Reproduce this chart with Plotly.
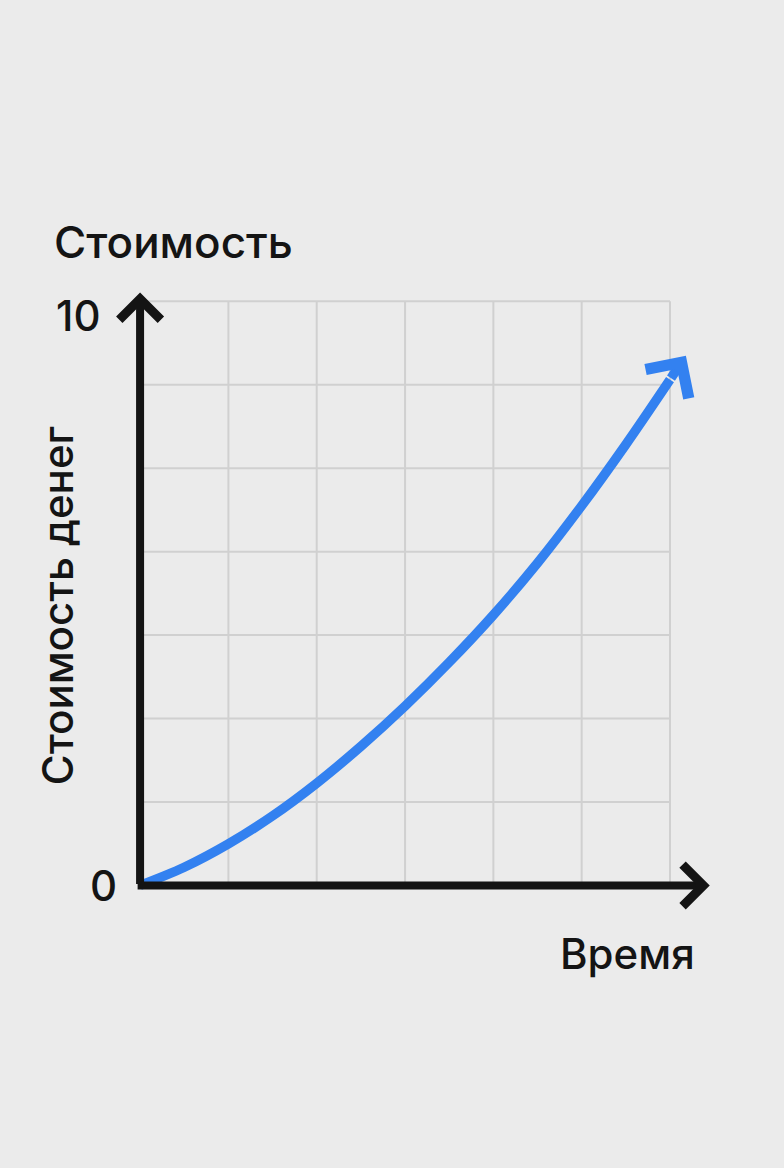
import plotly.graph_objects as go

# ---- data ----
time_x = [0, 0.5, 1, 1.5, 2, 2.5, 3, 3.5, 4, 4.5, 5, 5.5, 6, 6.18]
value_y = [0, 0.31, 0.71, 1.19, 1.75, 2.38, 3.07, 3.82, 4.63, 5.52, 6.50, 7.55, 8.66, 9.07]
x_grid = [0, 1, 2, 3, 4, 5, 6]
y_max = 10
y_grid_steps = 7
y_tick_text = ["0", "10"]
x_axis_end = 6.45
y_axis_end = 10.15

title_top = "Стоимость"
title_y = "Стоимость денег"
title_x = "Время"

# ---- layout geometry ----
W, H = 784, 1168
ox, oy = 140, 885          # pixel of data origin
ux, uy = 88.33, 58.33      # pixels per data unit
x_range = [-0.25, 6.6]
y_range = [-0.25, 10.4]
l = ox + x_range[0] * ux
pw = (x_range[1] - x_range[0]) * ux
r = W - l - pw
b = H - (oy - y_range[0] * uy)
ph = (y_range[1] - y_range[0]) * uy
t = H - b - ph


def px_x(px):
    return (px - l) / pw


def px_y(py):
    return ((H - b) - py) / ph


BG = "#ebebeb"
GRID = "#d0d0d0"
BLUE = "#3381f0"
INK = "#141414"
FONT = "Inter"

fig = go.Figure()

# grid (bounded to the data box)
gx, gy = [], []
for xv in x_grid:
    gx += [xv, xv, None]
    gy += [0, y_max, None]
x_last = x_grid[-1]
for k in range(y_grid_steps + 1):
    yv = y_max * k / y_grid_steps
    gx += [0, x_last, None]
    gy += [yv, yv, None]
fig.add_trace(go.Scatter(x=gx, y=gy, mode="lines",
                         line=dict(color=GRID, width=2), hoverinfo="skip"))

# curve (last segment drawn by the arrow annotation)
fig.add_trace(go.Scatter(x=time_x[:-1], y=value_y[:-1], mode="lines",
                         line=dict(color=BLUE, width=9.5, shape="spline", smoothing=1),
                         hoverinfo="skip"))

annotations = []
# blue arrow head
annotations.append(dict(x=time_x[-1], y=value_y[-1], ax=time_x[-2], ay=value_y[-2],
                        xref="x", yref="y", axref="x", ayref="y", text="",
                        showarrow=True, arrowhead=4, arrowwidth=9.5, arrowsize=1.05,
                        arrowcolor=BLUE))
# axes with arrow heads
annotations.append(dict(x=x_axis_end, y=0, ax=-0.045, ay=0,
                        xref="x", yref="y", axref="x", ayref="y", text="",
                        showarrow=True, arrowhead=4, arrowwidth=8, arrowsize=1.0,
                        arrowcolor=INK))
annotations.append(dict(x=0, y=y_axis_end, ax=0, ay=0,
                        xref="x", yref="y", axref="x", ayref="y", text="",
                        showarrow=True, arrowhead=4, arrowwidth=8, arrowsize=1.0,
                        arrowcolor=INK))

txt = dict(family=FONT, size=42, color=INK, weight=500)
txt_top = dict(family=FONT, size=44, color=INK, weight=500)
# tick labels
annotations.append(dict(x=px_x(119), y=px_y(oy), xref="paper", yref="paper",
                        text=y_tick_text[0], showarrow=False, xanchor="right",
                        yanchor="middle", font=txt))
annotations.append(dict(x=px_x(103), y=px_y(316), xref="paper", yref="paper",
                        text=y_tick_text[1], showarrow=False, xanchor="right",
                        yanchor="middle", font=txt))
# titles
annotations.append(dict(x=px_x(52), y=px_y(242), xref="paper", yref="paper",
                        text=title_top, showarrow=False, xanchor="left",
                        yanchor="middle", font=txt_top))
annotations.append(dict(x=px_x(697), y=px_y(953), xref="paper", yref="paper",
                        text=title_x, showarrow=False, xanchor="right",
                        yanchor="middle", font=txt))
annotations.append(dict(x=px_x(57), y=px_y(606), xref="paper", yref="paper",
                        text=title_y, showarrow=False, textangle=-90,
                        xanchor="center", yanchor="middle", font=txt))

fig.update_layout(
    width=W, height=H,
    margin=dict(l=l, r=r, t=t, b=b, autoexpand=False),
    paper_bgcolor=BG, plot_bgcolor=BG,
    showlegend=False, hovermode=False,
    xaxis=dict(range=x_range, visible=False, fixedrange=True),
    yaxis=dict(range=y_range, visible=False, fixedrange=True),
    annotations=annotations,
)

fig.write_html("out.html", config={"displayModeBar": False},
               post_script="document.body.style.margin='0';"
                           "document.body.style.background='" + BG + "';")
